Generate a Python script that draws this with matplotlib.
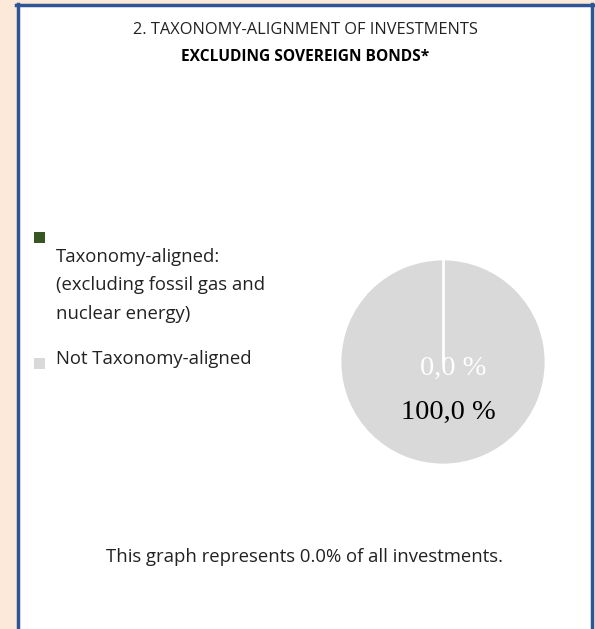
import numpy as np
import matplotlib.pyplot as plt
from matplotlib.patches import Rectangle
from matplotlib.lines import Line2D

# data
labels = ["Taxonomy-aligned:\n(excluding fossil gas and\nnuclear energy)", "Not Taxonomy-aligned"]
values = [0.0, 100.0]
value_labels = ["0,0 %", "100,0 %"]
colors = ["#375623", "#d9d9d9"]
title1 = "2. TAXONOMY-ALIGNMENT OF INVESTMENTS"
title2 = "EXCLUDING SOVEREIGN BONDS*"
footer = "This graph represents 0.0% of all investments."

W, H = 595, 629
fig = plt.figure(figsize=(W / 100, H / 100), dpi=100)
fig.patch.set_facecolor("#fde9d9")

def fx(x):
    return x / W

def fy(y):
    return 1 - y / H

# white panel with blue frame
fig.add_artist(Rectangle((fx(18), 0), fx(592) - fx(18), fy(5), transform=fig.transFigure,
                         facecolor="white", edgecolor="none", zorder=-5))
blue = "#2f5597"
fig.add_artist(Line2D([fx(17.5), fx(17.5)], [0, fy(4)], transform=fig.transFigure, color=blue, lw=2.5))
fig.add_artist(Line2D([fx(591.5), fx(591.5)], [0, fy(4)], transform=fig.transFigure, color=blue, lw=2.5))
fig.add_artist(Line2D([fx(16), fx(593)], [fy(4.5), fy(4.5)], transform=fig.transFigure, color=blue, lw=2.5))

font = ["Open Sans", "DejaVu Sans"]
fig.text(fx(305), fy(30), title1, ha="center", va="center", fontsize=11.8, family=font, color="#222222")
fig.text(fx(305), fy(57), title2, ha="center", va="center", fontsize=11.2, family=font,
         fontweight="bold", color="black")
fig.text(fx(305), fy(557), footer, ha="center", va="center", fontsize=13.3, family=font, color="#222222")

# pie
ax = fig.add_axes([fx(340), fy(465), fx(546) - fx(340), (465 - 259) / H])
ax.set_zorder(5)
wedges, _ = ax.pie(values, colors=colors, startangle=90, counterclock=False,
                   wedgeprops=dict(edgecolor="white", linewidth=2))
# boundary between the slices (zero-width slice still shows as a white line)
for frac in np.cumsum(values)[:-1] / sum(values):
    ang = np.deg2rad(90 - 360 * frac)
    ax.plot([0, np.cos(ang)], [0, np.sin(ang)], color="white", lw=2, zorder=3)
ax.set_xlim(-1, 1)
ax.set_ylim(-1, 1)
ax.text(0.1, -0.06, value_labels[0], ha="center", va="center", fontsize=20.5,
        family="Liberation Serif", color="white", zorder=4)
ax.text(0.05, -0.49, value_labels[1], ha="center", va="center", fontsize=20.5,
        family="Liberation Serif", color="black", zorder=4)

# legend
fig.add_artist(Rectangle((fx(34), fy(243)), 11 / W, 11 / H, transform=fig.transFigure,
                         facecolor=colors[0], edgecolor="none"))
fig.add_artist(Rectangle((fx(34), fy(369)), 11 / W, 11 / H, transform=fig.transFigure,
                         facecolor=colors[1], edgecolor="none"))
fig.text(fx(56), fy(248), labels[0], ha="left", va="top", fontsize=13.3, family=font,
         color="#222222", linespacing=1.75)
fig.text(fx(56), fy(359), labels[1], ha="left", va="center", fontsize=13.3, family=font,
         color="#222222")

fig.savefig("out.png", dpi=100)
